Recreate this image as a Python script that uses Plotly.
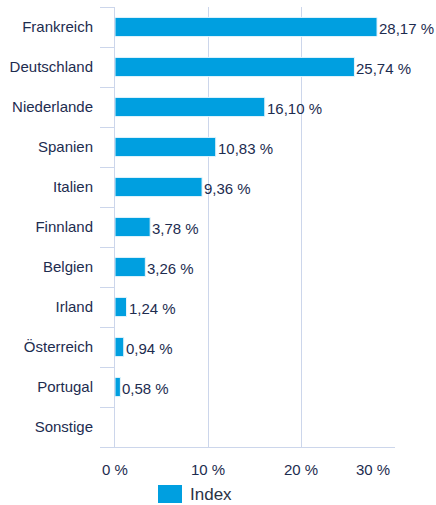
import plotly.graph_objects as go

categories = ["Frankreich", "Deutschland", "Niederlande", "Spanien", "Italien",
              "Finnland", "Belgien", "Irland", "Österreich", "Portugal", "Sonstige"]
values = [28.17, 25.74, 16.10, 10.83, 9.36, 3.78, 3.26, 1.24, 0.94, 0.58, None]
tick_values = [0, 10, 20, 30]
tick_labels = ["0 %", "10 %", "20 %", "30 %"]
series_name = "Index"

BLUE = "#009fe0"
TEXT = "#1d2c4f"
GRID = "#ccd6eb"
FONT = "Liberation Sans, Arial, sans-serif"

fig = go.Figure(go.Bar(
    y=categories, x=values, orientation="h",
    marker=dict(color=BLUE, line=dict(color="#e6f5fc", width=1)),
    width=0.48,
    name=series_name, showlegend=False, hoverinfo="x+y",
))

annotations = []
# value labels right next to bar ends
for c, v in zip(categories, values):
    if v is None:
        continue
    annotations.append(dict(
        x=v, y=c, xref="x", yref="y", xanchor="left", yanchor="middle",
        text=f"{v:.2f}".replace(".", ",") + " %", showarrow=False,
        font=dict(size=15, color=TEXT, family=FONT), xshift=0, yshift=-1))
# x-axis tick labels (last one right-aligned to stay inside the chart)
for i, (tv, tl) in enumerate(zip(tick_values, tick_labels)):
    last = i == len(tick_values) - 1
    annotations.append(dict(
        x=tv, y=0, xref="x", yref="paper", yanchor="top",
        xanchor="right" if last else "center", xshift=-2 if last else 0,
        yshift=-12, text=tl, showarrow=False,
        font=dict(size=15, color=TEXT, family=FONT)))
# legend label
annotations.append(dict(text=series_name, xref="paper", yref="paper",
                        x=(188 - 115) / 280, y=-(494 - 447) / 440,
                        xanchor="left", yanchor="middle", showarrow=False,
                        font=dict(size=17, color="#2a3346", family=FONT)))

fig.update_layout(
    width=436, height=505,
    margin=dict(l=115, r=41, t=7, b=58),
    plot_bgcolor="white", paper_bgcolor="white",
    font=dict(family=FONT, size=15, color=TEXT),
    xaxis=dict(range=[0, 30.1], tickvals=tick_values, showticklabels=False,
               showgrid=True, gridcolor=GRID, gridwidth=1,
               zeroline=False, showline=True, linecolor=GRID, linewidth=1,
               ticks="", fixedrange=True),
    yaxis=dict(categoryorder="array", categoryarray=categories[::-1],
               autorange=False, range=[-0.5, len(categories) - 0.5],
               showline=True, linecolor=GRID, linewidth=1, mirror=False,
               ticks="outside", ticklen=14, tickcolor=GRID, tickson="boundaries",
               showgrid=False, zeroline=False, ticklabelstandoff=18,
               tickfont=dict(size=15, color=TEXT), fixedrange=True),
    shapes=[dict(type="rect", xref="paper", yref="paper",
                 x0=(158 - 115) / 280, x1=(182 - 115) / 280,
                 y0=-(485 - 447) / 440, y1=-(503 - 447) / 440,
                 fillcolor=BLUE, line=dict(width=0))],
    annotations=annotations,
)

fig.write_html("out.html")
